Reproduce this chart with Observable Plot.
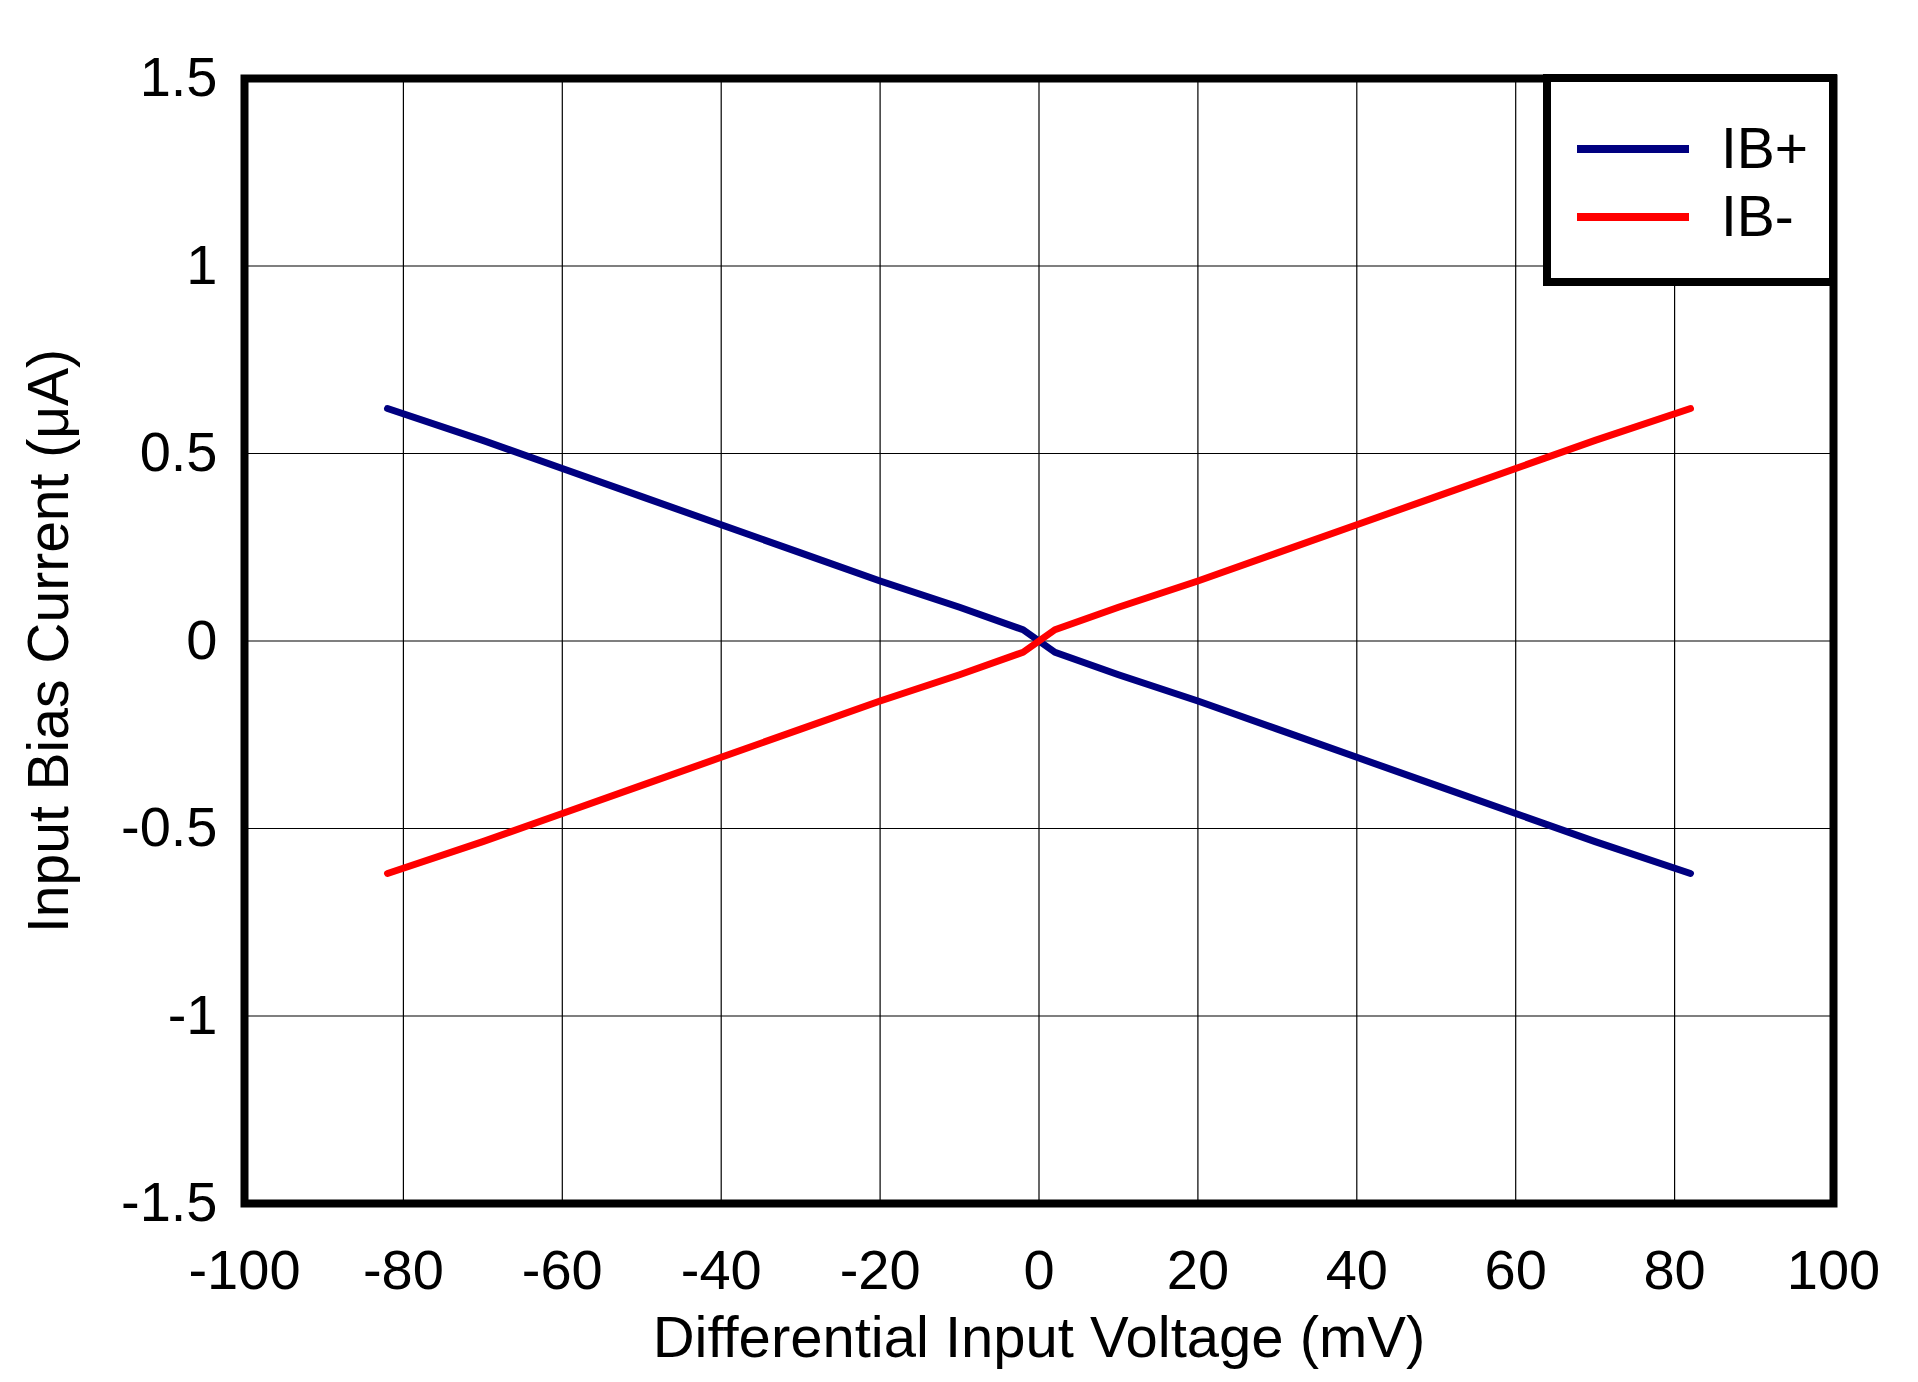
<!DOCTYPE html>
<html>
<head>
<meta charset="utf-8">
<script src="https://cdn.jsdelivr.net/npm/d3@7"></script>
<script src="https://cdn.jsdelivr.net/npm/@observablehq/plot@0.6"></script>
<style>
  html, body { margin: 0; padding: 0; background: #fff; }
  #wrap { position: relative; width: 1918px; height: 1382px; font-family: "Liberation Sans", Arial, sans-serif; }
  #legend { position: absolute; left: 1543px; top: 74px; width: 278px; height: 196px; border: 8px solid #000; background: #fff; box-sizing: content-box; }
  .item { position: absolute; left: 26px; display: flex; align-items: center; }
  .swatch { width: 112px; height: 8px; }
  .lab { margin-left: 32px; font-size: 57px; color: #000; line-height: 1; }
</style>
</head>
<body>
<div id="wrap"></div>
<script>
// Differential input voltage (mV)
const voltage = [-82, -70, -60, -50, -40, -30, -20, -10, -2, 0, 2, 10, 20, 30, 40, 50, 60, 70, 82];
// Input bias currents (µA)
const ibPlus  = [0.62, 0.535, 0.46, 0.385, 0.31, 0.235, 0.16, 0.09, 0.03, 0, -0.03, -0.09, -0.16, -0.235, -0.31, -0.385, -0.46, -0.535, -0.62];
const ibMinus = [-0.62, -0.535, -0.46, -0.385, -0.31, -0.235, -0.16, -0.09, -0.03, 0, 0.03, 0.09, 0.16, 0.235, 0.31, 0.385, 0.46, 0.535, 0.62];
const seriesNames = ["IB+", "IB-"];
const seriesColors = ["#000080", "#ff0000"];
const xTicks = [-100, -80, -60, -40, -20, 0, 20, 40, 60, 80, 100];
const yTicks = [-1.5, -1, -0.5, 0, 0.5, 1, 1.5];

const rows = [];
voltage.forEach((v, i) => {
  rows.push({v, i: ibPlus[i], s: seriesNames[0]});
  rows.push({v, i: ibMinus[i], s: seriesNames[1]});
});

const fmt = d => String(d);
const font = "'Liberation Sans', Arial, sans-serif";

const chart = Plot.plot({
  width: 1918,
  height: 1382,
  marginLeft: 244,
  marginRight: 85,
  marginTop: 78,
  marginBottom: 179,
  style: {fontFamily: font, fontSize: "56px", color: "#000", background: "#fff"},
  x: {domain: [-100, 100]},
  y: {domain: [-1.5, 1.5]},
  color: {domain: seriesNames, range: seriesColors},
  marks: [
    Plot.gridX(xTicks, {stroke: "#000", strokeOpacity: 1, strokeWidth: 1.2}),
    Plot.gridY(yTicks, {stroke: "#000", strokeOpacity: 1, strokeWidth: 1.2}),
    Plot.line(rows, {x: "v", y: "i", z: "s", stroke: "s", strokeWidth: 7, strokeLinejoin: "round"}),
    Plot.frame({stroke: "#000", strokeWidth: 8}),
    Plot.axisX(xTicks, {tickSize: 0, tickPadding: 46, tickFormat: fmt, label: null, fontSize: 56}),
    Plot.axisY(yTicks, {tickSize: 0, tickPadding: 27, tickFormat: fmt, label: null, fontSize: 56}),
    Plot.text(["Differential Input Voltage (mV)"], {frameAnchor: "bottom", dy: 135, lineAnchor: "middle", textAnchor: "middle", text: d => d, fontSize: 58}),
    Plot.text(["Input Bias Current (\u03bcA)"], {frameAnchor: "left", dx: -195, rotate: -90, lineAnchor: "middle", textAnchor: "middle", text: d => d, fontSize: 57})
  ]
});

const wrap = document.getElementById("wrap");
wrap.appendChild(chart);

const legend = document.createElement("div");
legend.id = "legend";
seriesNames.forEach((name, k) => {
  const item = document.createElement("div");
  item.className = "item";
  item.style.top = (k === 0 ? 38 : 106) + "px";
  const sw = document.createElement("div");
  sw.className = "swatch";
  sw.style.background = seriesColors[k];
  const lab = document.createElement("span");
  lab.className = "lab";
  lab.textContent = name;
  item.appendChild(sw);
  item.appendChild(lab);
  legend.appendChild(item);
});
wrap.appendChild(legend);
</script>
</body>
</html>
